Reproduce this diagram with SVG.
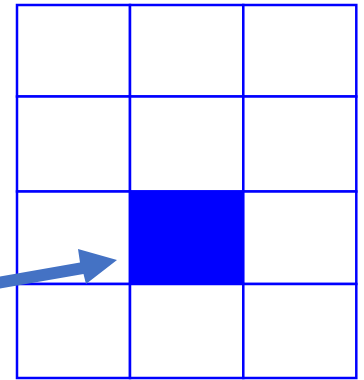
<svg xmlns="http://www.w3.org/2000/svg" width="364" height="380" viewBox="0 0 364 380">
<style>
.cell{fill:#fff;stroke:#0000ff;stroke-width:2.5}
.on{fill:#0000ff}
.arrow{fill:#4472c4}
</style>
<rect width="364" height="380" fill="#fff"/>
<g id="grid">
<g id="r1c1"><rect class="cell" x="17" y="5" width="113" height="91.5"/></g>
<g id="r1c2"><rect class="cell" x="130" y="5" width="113.3" height="91.5"/></g>
<g id="r1c3"><rect class="cell" x="243.3" y="5" width="113" height="91.5"/></g>
<g id="r2c1"><rect class="cell" x="17" y="96.5" width="113" height="95"/></g>
<g id="r2c2"><rect class="cell" x="130" y="96.5" width="113.3" height="95"/></g>
<g id="r2c3"><rect class="cell" x="243.3" y="96.5" width="113" height="95"/></g>
<g id="r3c1"><rect class="cell" x="17" y="191.5" width="113" height="92.5"/></g>
<g id="r3c2"><rect class="cell on" x="130" y="191.5" width="113.3" height="92.5"/></g>
<g id="r3c3"><rect class="cell" x="243.3" y="191.5" width="113" height="92.5"/></g>
<g id="r4c1"><rect class="cell" x="17" y="284" width="113" height="94"/></g>
<g id="r4c2"><rect class="cell" x="130" y="284" width="113.3" height="94"/></g>
<g id="r4c3"><rect class="cell" x="243.3" y="284" width="113" height="94"/></g>
</g>
<g id="connectors">
<polygon class="arrow" points="-5,277.5 80,262.5 78,249 117,260 86,284 83.5,274 -5,289.5"/>
</g>
</svg>
